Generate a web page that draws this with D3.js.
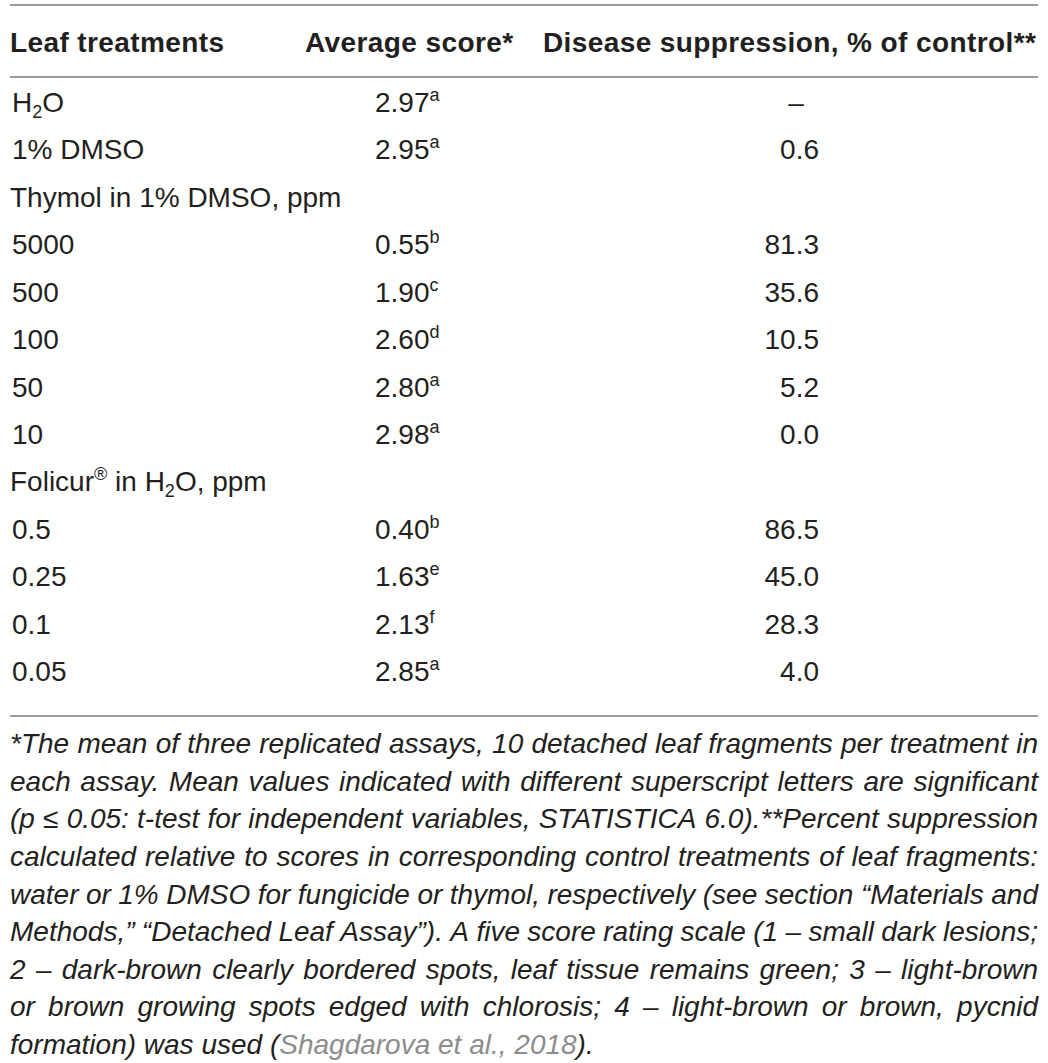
<!DOCTYPE html>
<html>
<head>
<meta charset="utf-8">
<script src="https://cdn.jsdelivr.net/npm/d3@7"></script>
<style>
  body { margin: 0; background: #fff; }
  svg text { font-family: "Liberation Sans", Arial, sans-serif; fill: #231f20; }
</style>
</head>
<body>
<script>
// table content
const columns = ["Leaf treatments", "Average score*", "Disease suppression, % of control**"];
const rowLabels = ["H_2O", "1% DMSO", "Thymol in 1% DMSO, ppm", "5000", "500", "100", "50", "10",
  "Folicur^® in H_2O, ppm", "0.5", "0.25", "0.1", "0.05"];
const rowTypes = ["item", "item", "group", "item", "item", "item", "item", "item",
  "group", "item", "item", "item", "item"];
const scores = [2.97, 2.95, null, 0.55, 1.90, 2.60, 2.80, 2.98, null, 0.40, 1.63, 2.13, 2.85];
const letters = ["a", "a", null, "b", "c", "d", "a", "a", null, "b", "e", "f", "a"];
const suppression = [null, 0.6, null, 81.3, 35.6, 10.5, 5.2, 0.0, null, 86.5, 45.0, 28.3, 4.0];
const footnote = [
  "*The mean of three replicated assays, 10 detached leaf fragments per treatment in",
  "each assay. Mean values indicated with different superscript letters are significant",
  "(p ≤ 0.05: t-test for independent variables, STATISTICA 6.0).**Percent suppression",
  "calculated relative to scores in corresponding control treatments of leaf fragments:",
  "water or 1% DMSO for fungicide or thymol, respectively (see section “Materials and",
  "Methods,” “Detached Leaf Assay”). A five score rating scale (1 – small dark lesions;",
  "2 – dark-brown clearly bordered spots, leaf tissue remains green; 3 – light-brown",
  "or brown growing spots edged with chlorosis; 4 – light-brown or brown, pycnid",
  "formation) was used ({Shagdarova et al., 2018})."
];

const w = 1048, h = 1063;
const left = 10, right = 1038;
const fs = 28, smallFs = 18;

const svg = d3.select("body").append("svg")
  .attr("width", w)
  .attr("height", h);

// rules
const ruleY = [5, 77, 716];
svg.selectAll("line.rule")
  .data(ruleY)
  .enter()
  .append("line")
  .attr("class", "rule")
  .attr("x1", left).attr("x2", right)
  .attr("y1", d => d).attr("y2", d => d)
  .attr("stroke", "#9a9a9a")
  .attr("stroke-width", 2);

// header
const headerX = [10, 305, 543];
svg.selectAll("text.head")
  .data(columns)
  .enter()
  .append("text")
  .attr("class", "head")
  .attr("x", (d, i) => headerX[i])
  .attr("y", 52)
  .attr("font-size", fs)
  .attr("font-weight", "bold")
  .attr("letter-spacing", 0.4)
  .text(d => d);

const y = d3.scalePoint()
  .domain(d3.range(rowLabels.length))
  .range([112, 681]);

// parse "_x" subscript and "^x" superscript
function addRich(textSel, str) {
  const parts = str.split(/([_^].)/).filter(s => s.length);
  let shift = 0;
  parts.forEach(p => {
    if (p[0] === "_" || p[0] === "^") {
      const dy = p[0] === "_" ? 6 : -11;
      textSel.append("tspan").attr("font-size", smallFs).attr("dy", dy - shift).text(p[1]);
      shift = dy;
    } else {
      textSel.append("tspan").attr("dy", -shift).text(p);
      shift = 0;
    }
  });
}

const rows = svg.selectAll("g.row")
  .data(rowLabels)
  .enter()
  .append("g")
  .attr("class", "row");

rows.append("text")
  .attr("x", (d, i) => rowTypes[i] === "group" ? 10 : 12)
  .attr("y", (d, i) => y(i))
  .attr("font-size", fs)
  .each(function (d) { addRich(d3.select(this), d); });

// scores with superscript letters
rows.filter((d, i) => scores[i] !== null)
  .append("text")
  .attr("x", 375)
  .attr("y", (d, i) => y(rowLabels.indexOf(d)))
  .attr("font-size", fs)
  .each(function (d) {
    const i = rowLabels.indexOf(d);
    addRich(d3.select(this), d3.format(".2f")(scores[i]) + "^" + letters[i]);
  });

// suppression column
rows.filter((d, i) => rowTypes[i] === "item")
  .append("text")
  .attr("x", d => suppression[rowLabels.indexOf(d)] === null ? 796 : 819)
  .attr("y", d => y(rowLabels.indexOf(d)))
  .attr("font-size", fs)
  .attr("text-anchor", d => suppression[rowLabels.indexOf(d)] === null ? "middle" : "end")
  .text(d => {
    const v = suppression[rowLabels.indexOf(d)];
    return v === null ? "–" : d3.format(".1f")(v);
  });

// footnote, justified by placing words
const fy = d3.scalePoint()
  .domain(d3.range(footnote.length))
  .range([753, 1054]);

const probe = svg.append("text")
  .attr("font-size", fs)
  .attr("font-style", "italic");
function measure(s) {
  probe.text(s);
  return probe.node().getComputedTextLength();
}
const spaceW = measure("a a") - measure("aa");

footnote.forEach((line, li) => {
  const t = svg.append("text")
    .attr("y", fy(li))
    .attr("font-size", fs)
    .attr("font-style", "italic");
  const last = li === footnote.length - 1;
  const words = line.replace(/[{}]/g, "").split(" ");
  const widths = words.map(measure);
  const total = d3.sum(widths);
  const gap = last ? spaceW : (right - left - total) / (words.length - 1);
  let x = left;
  let gray = false;
  line.split(" ").forEach((word, wi) => {
    const ts = t.append("tspan").attr("x", x);
    word.split(/([{}])/).filter(s => s.length).forEach(seg => {
      if (seg === "{") { gray = true; return; }
      if (seg === "}") { gray = false; return; }
      ts.append("tspan").style("fill", gray ? "#8c8c8c" : null).text(seg);
    });
    x += widths[wi] + gap;
  });
});
probe.remove();
</script>
</body>
</html>
